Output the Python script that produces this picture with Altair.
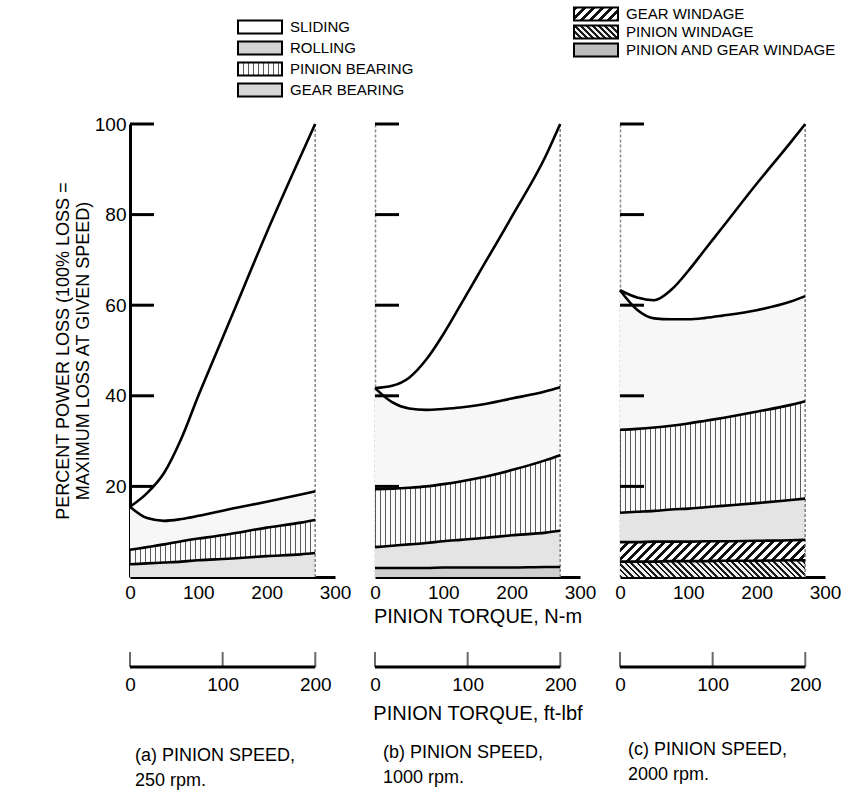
import altair as alt
import pandas as pd

# ---------------- values ----------------
TORQUE_NM = [0, 25, 50, 75, 100, 125, 150, 200, 250, 271]

# (a) 250 rpm  - cumulative boundaries, bottom -> top
A_GEAR_BRG_TOP   = [2.8, 3.0, 3.2, 3.4, 3.7, 3.9, 4.1, 4.6, 5.0, 5.3]
A_PINION_BRG_TOP = [6.0, 6.6, 7.2, 7.9, 8.5, 9.0, 9.6, 10.9, 12.0, 12.6]
A_ROLLING_TOP    = [15.5, 13.0, 12.4, 12.8, 13.5, 14.3, 15.1, 16.6, 18.2, 18.9]
A_TOTAL          = [15.5, 18.5, 23.0, 30.5, 40.0, 49.0, 58.0, 76.0, 93.0, 100.0]

# (b) 1000 rpm
B_WINDAGE_TOP    = [2.0, 2.0, 2.0, 2.0, 2.1, 2.1, 2.1, 2.1, 2.2, 2.2]
B_GEAR_BRG_TOP   = [6.6, 6.9, 7.2, 7.5, 7.9, 8.2, 8.5, 9.2, 9.8, 10.2]
B_PINION_BRG_TOP = [19.4, 19.5, 19.7, 20.0, 20.5, 21.1, 21.8, 23.6, 25.8, 26.9]
B_ROLLING_TOP    = [41.7, 38.6, 37.2, 36.9, 37.1, 37.4, 37.9, 39.4, 41.0, 41.9]
B_TOTAL          = [41.7, 42.2, 44.0, 48.0, 53.6, 60.0, 66.5, 79.5, 93.0, 100.0]

# (c) 2000 rpm
C_PINION_WIND_TOP = [3.4, 3.4, 3.4, 3.5, 3.5, 3.5, 3.6, 3.6, 3.7, 3.7]
C_GEAR_WIND_TOP   = [7.7, 7.7, 7.8, 7.8, 7.8, 7.9, 7.9, 8.0, 8.1, 8.2]
C_GEAR_BRG_TOP    = [14.2, 14.4, 14.6, 14.9, 15.1, 15.4, 15.7, 16.3, 17.0, 17.3]
C_PINION_BRG_TOP  = [32.5, 32.7, 33.0, 33.4, 33.9, 34.5, 35.1, 36.5, 38.0, 38.8]
C_ROLLING_TOP     = [63.3, 59.0, 57.1, 56.9, 56.9, 57.2, 57.7, 58.9, 60.8, 62.0]
C_TOTAL           = [63.3, 61.7, 61.1, 63.4, 67.6, 72.4, 77.2, 86.8, 96.0, 100.0]

NM_TICKS = [0, 100, 200, 300]
FT_LBF_TICKS = [0, 100, 200]
Y_TICKS = [20, 40, 60, 80, 100]
NM_MAX = 300
FT_LBF_PER_NM = 0.737562

LEGEND_LEFT = ["SLIDING", "ROLLING", "PINION BEARING", "GEAR BEARING"]
LEGEND_LEFT_KEYS = ["sliding", "rolling", "pinion_brg", "gear_brg"]
LEGEND_RIGHT = ["GEAR WINDAGE", "PINION WINDAGE", "PINION AND GEAR WINDAGE"]
LEGEND_RIGHT_KEYS = ["gear_wind", "pinion_wind", "pg_wind"]

Y_TITLE = ["PERCENT POWER LOSS (100% LOSS =", "MAXIMUM LOSS AT GIVEN SPEED)"]
NM_TITLE = "PINION TORQUE, N-m"
FT_TITLE = "PINION TORQUE, ft-lbf"
CAPTIONS = [
    ["(a) PINION SPEED,", "\u00a0\u00a0\u00a0250 rpm."],
    ["(b) PINION SPEED,", "\u00a0\u00a01000 rpm."],
    ["(c) PINION SPEED,", "\u00a0\u00a0\u00a02000 rpm."],
]

# ---------------- layout / style ----------------
W, H, H2 = 205, 453, 15
LEG_H = 49
FONT = "Liberation Sans"
AREA_W = W * TORQUE_NM[-1] / NM_MAX
BOX_W, BOX_H = 44, 13


def _stop(o, c):
    return {"offset": round(min(max(o, 0.0), 1.0), 5), "color": c}


def vstripes(w_px, period, lw, color, bg):
    stops, x = [], 0.0
    while x < w_px:
        stops += [_stop(x / w_px, color), _stop((x + lw) / w_px, color),
                  _stop((x + lw) / w_px, bg), _stop((x + period) / w_px, bg)]
        x += period
    return {"gradient": "linear", "x1": 0, "y1": 0, "x2": 1, "y2": 0, "stops": stops}


def dstripes(w_px, h_px, period, lw, color, bg, back=False):
    r = h_px / w_px
    a = 1.03 * (1 + r) / (1 + r * r)
    L = a * w_px * (1 + r * r)
    stops, s = [], 0.0
    while s < L:
        stops += [_stop(s / L, color), _stop((s + lw) / L, color),
                  _stop((s + lw) / L, bg), _stop((s + period) / L, bg)]
        s += period
    if back:
        return {"gradient": "linear", "x1": 0, "y1": 1, "x2": a, "y2": 1 - a * r, "stops": stops}
    return {"gradient": "linear", "x1": 0, "y1": 0, "x2": a, "y2": a * r, "stops": stops}


def fill_for(key, w_px, h_px, legend=False):
    if key == "pinion_brg":
        return vstripes(w_px, 5.0, 1.4, "#5a5a5a", "#fbfbfb")
    if key == "gear_brg":
        return "#d6d6d6" if legend else "#e4e4e4"
    if key == "rolling":
        return "#d2d2d2" if legend else "#f7f7f7"
    if key == "gear_wind":
        return dstripes(w_px, h_px, 9.0, 3.6, "#111111", "#ffffff")
    if key == "pinion_wind":
        return dstripes(w_px, h_px, 6.0, 2.6, "#1a1a1a", "#eeeeee", back=True)
    if key == "pg_wind":
        return "#bdbdbd" if legend else "#cfcfcf"
    return "#ffffff"


def panel(layers, show_labels, x_title):
    df = pd.DataFrame({"torque": TORQUE_NM, "zero": [0.0] * len(TORQUE_NM)})
    for key, vals in layers:
        df[key] = vals

    xaxis = alt.Axis(values=NM_TICKS, ticks=False, grid=False, labelFlush=False,
                     domainColor="black", domainWidth=3, labelFontSize=19,
                     labelPadding=6, title=x_title, titleFontSize=20,
                     titlePadding=4, titleFontWeight="normal")
    if show_labels:
        yaxis = alt.Axis(values=Y_TICKS, ticks=False, grid=False, domainColor="black",
                         domainWidth=3, labelFontSize=19, labelPadding=4,
                         title=Y_TITLE, titleFontSize=18, titleFontWeight="normal",
                         titleLineHeight=20, titlePadding=2)
    else:
        yaxis = alt.Axis(labels=False, ticks=False, grid=False, domainColor="#8a8a8a",
                         domainDash=[3, 2], domainWidth=1.5, title=None)
    xs = alt.Scale(domain=[0, NM_MAX], nice=False)
    ys = alt.Scale(domain=[0, 100], nice=False)

    def xe(f):
        return alt.X(f, scale=xs, axis=xaxis)

    def ye(f):
        return alt.Y(f, scale=ys, axis=yaxis)

    charts = []
    prev = "zero"
    for key, vals in layers:
        if key != "sliding":
            lower = df[prev].tolist()
            h_px = (max(vals) - min(lower)) * H / 100.0
            charts.append(
                alt.Chart(df).mark_area(fill=fill_for(key, AREA_W, h_px), opacity=1,
                                        interpolate="monotone")
                .encode(x=xe("torque:Q"), y=ye(f"{key}:Q"), y2=alt.Y2(f"{prev}:Q"))
            )
        prev = key

    border = alt.Chart(pd.DataFrame({"t": [TORQUE_NM[-1]]})).mark_rule(
        color="#808080", strokeDash=[3, 2], strokeWidth=1.5
    ).encode(x=xe("t:Q"), y=alt.value(0), y2=alt.value(H))
    charts.append(border)

    names = [k for k, _ in layers]
    lines = alt.Chart(df).transform_fold(names, as_=["comp", "val"]).mark_line(
        color="black", strokeWidth=2.6, interpolate="monotone"
    ).encode(x=xe("torque:Q"), y=ye("val:Q"), detail="comp:N")
    charts.append(lines)

    ticks = alt.Chart(pd.DataFrame({"v": Y_TICKS})).mark_rule(
        color="black", strokeWidth=3
    ).encode(y=ye("v:Q"), x=alt.value(0), x2=alt.value(24))
    charts.append(ticks)

    return alt.layer(*charts).properties(width=W, height=H)


def ft_axis(caption, show_title, offset, dx):
    fs = alt.Scale(domain=[0, NM_MAX * FT_LBF_PER_NM], nice=False)
    ax = alt.Axis(values=FT_LBF_TICKS, ticks=False, domain=False, grid=False,
                  labelFlush=False, labelFontSize=19, labelPadding=8,
                  title=FT_TITLE if show_title else None, titleFontSize=20,
                  titleFontWeight="normal", titlePadding=9)
    tick_rules = alt.Chart(pd.DataFrame({"v": FT_LBF_TICKS})).mark_rule(
        color="#6a6a6a", strokeWidth=2
    ).encode(x=alt.X("v:Q", scale=fs, axis=ax), y=alt.value(0), y2=alt.value(H2))
    base = alt.Chart(pd.DataFrame({"a": [FT_LBF_TICKS[0]], "b": [FT_LBF_TICKS[-1]]})).mark_rule(
        color="black", strokeWidth=3
    ).encode(x=alt.X("a:Q", scale=fs, axis=ax), x2="b:Q", y=alt.value(H2))
    return alt.layer(tick_rules, base).properties(
        width=W, height=H2,
        title=alt.TitleParams(caption, orient="bottom", anchor="start", frame="group",
                              dx=dx, offset=offset, fontSize=18, fontWeight="normal",
                              lineHeight=25, color="black"),
    )


def legend_chart():
    xs = alt.Scale(domain=[0, 1], range=[130, 466])
    box_path = "M-1,-{h}L1,-{h}L1,{h}L-1,{h}Z".format(h=round(BOX_H / BOX_W, 4))
    layers = []
    for col, (labels, keys, yr) in enumerate([
        (LEGEND_LEFT, LEGEND_LEFT_KEYS, [27, 90]),
        (LEGEND_RIGHT, LEGEND_RIGHT_KEYS, [14, 50]),
    ]):
        df = pd.DataFrame({"label": labels, "row": list(range(len(labels))),
                           "col": [col] * len(labels)})
        ys = alt.Scale(domain=[0, len(labels) - 1], range=yr)
        for i, key in enumerate(keys):
            layers.append(
                alt.Chart(df.iloc[[i]]).mark_point(
                    shape=box_path, size=BOX_W ** 2, filled=True, opacity=1,
                    fill=fill_for(key, BOX_W, BOX_H, legend=True),
                    stroke="black", strokeWidth=2,
                ).encode(x=alt.X("col:Q", scale=xs, axis=None),
                         y=alt.Y("row:Q", scale=ys, axis=None))
            )
        layers.append(
            alt.Chart(df).mark_text(align="left", baseline="middle", dx=BOX_W / 2 + 8,
                                    fontSize=15, color="black")
            .encode(x=alt.X("col:Q", scale=xs, axis=None),
                    y=alt.Y("row:Q", scale=ys, axis=None), text="label:N")
        )
    return alt.layer(*layers).resolve_scale(y="independent").properties(
        width=3 * W + 80, height=LEG_H)


pa = panel([("gear_brg", A_GEAR_BRG_TOP), ("pinion_brg", A_PINION_BRG_TOP),
            ("rolling", A_ROLLING_TOP), ("sliding", A_TOTAL)], True, None)
pb = panel([("pg_wind", B_WINDAGE_TOP), ("gear_brg", B_GEAR_BRG_TOP),
            ("pinion_brg", B_PINION_BRG_TOP), ("rolling", B_ROLLING_TOP),
            ("sliding", B_TOTAL)], False, NM_TITLE)
pc = panel([("pinion_wind", C_PINION_WIND_TOP), ("gear_wind", C_GEAR_WIND_TOP),
            ("gear_brg", C_GEAR_BRG_TOP), ("pinion_brg", C_PINION_BRG_TOP),
            ("rolling", C_ROLLING_TOP), ("sliding", C_TOTAL)], False, None)

fa = ft_axis(CAPTIONS[0], False, 53, 5)
fb = ft_axis(CAPTIONS[1], True, 21, 8)
fc = ft_axis(CAPTIONS[2], False, 47, 8)

grid = alt.concat(pa, pb, pc, fa, fb, fc, columns=3,
                  spacing={"row": 75, "column": 40}, bounds="flush")

chart = alt.vconcat(legend_chart(), grid, spacing=75, bounds="flush").properties(
    padding={"left": 54, "top": 0, "right": 0, "bottom": 0},
    background="white",
).configure(font=FONT).configure_view(strokeOpacity=0).configure_axis(
    labelColor="black", titleColor="black", labelFont=FONT, titleFont=FONT
).configure_title(font=FONT)

chart.save("out.html", embed_options={"renderer": "svg", "actions": False})
